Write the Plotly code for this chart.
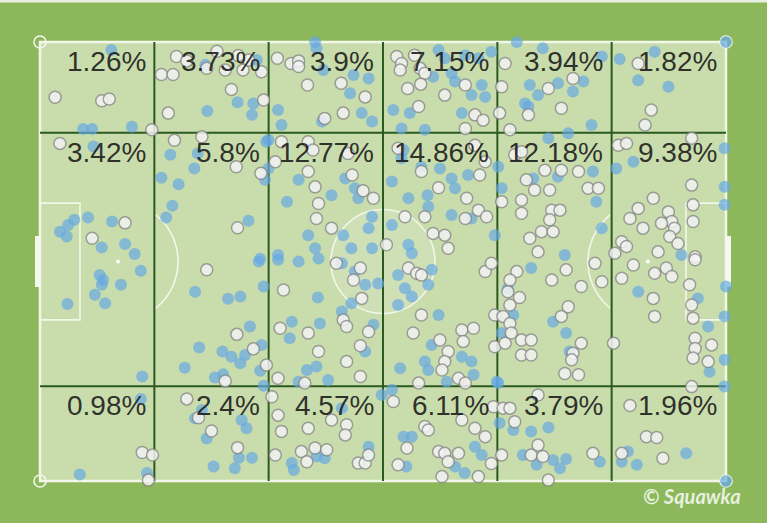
import numpy as np
import plotly.graph_objects as go

# ---------------- data (pitch units: x 0-100 along length, y 0-100 across, 0 = top) ----
zone_x_edges = [0, 16.67, 33.33, 50, 66.67, 83.33, 100]
zone_y_edges = [0, 20.7, 78.4, 100]

pct_top = [1.26, 3.73, 3.9, 7.15, 3.94, 1.82]
pct_mid = [3.42, 5.8, 12.77, 14.86, 12.18, 9.38]
pct_bot = [0.98, 2.4, 4.57, 6.11, 3.79, 1.96]

blue_pts = [
    (10.4,1.8),(6.3,19.8),(7.6,19.8),(13.4,19.3),(28.8,13.7),(24.4,15.7),(31.1,14.0),(30.9,16.6),
    (24.1,5.2),(31.6,4.1),(7.8,23.8),(19.0,25.7),(17.7,30.9),(20.2,32.4),(22.5,28.8),(23.0,25.4),
    (19.3,37.3),(18.4,40.0),(33.0,22.7),(32.8,31.4),(30.4,40.7),(5.0,40.5),(4.1,41.7),(2.9,43.2),
    (3.9,44.3),(7.0,40.0),(10.5,40.9),(9.0,46.8),(12.4,46.0),(13.8,48.3),(32.1,49.4),
    (8.7,53.1),(9.2,54.2),(9.0,55.3),(11.8,55.3),(8.0,57.6),(9.5,59.5),(4.0,59.7),(14.7,52.1),
    (14.9,76.2),(22.6,56.9),(27.4,58.5),(29.2,58.0),(30.6,64.8),(23.2,69.6),(26.6,70.5),(27.9,71.7),
    (29.2,73.2),(29.9,71.3),(32.3,69.0),(32.1,74.9),(32.6,78.3),(21.1,74.2),(25.5,76.4),(26.7,75.7),
    (31.9,50.0),(32.6,55.7),(29.4,86.1),(30.1,88.0),(23.6,83.8),(22.6,85.7),(24.3,90.3),(25.3,96.7),
    (28.4,97.1),(29.0,94.7),(30.9,94.7),(5.8,98.5),(14.7,81.3),(15.6,98.2),
    (40.1,0.0),(40.3,1.4),(41.3,6.4),(45.7,7.5),(47.9,8.3),(45.2,11.7),(34.7,15.5),(35.2,18.9),
    (41.1,18.1),(46.9,16.2),(48.4,18.1),(51.5,15.5),(53.9,16.2),(57.3,7.9),(60.0,7.1),(58.1,1.8),
    (59.0,3.7),(62.0,3.0),(63.9,3.7),(65.8,2.2),(60.5,9.0),(64.4,9.8),(62.9,12.1),(64.9,12.5),
    (61.5,16.2),(52.7,19.7),(56.1,20.0),(33.3,22.3),(33.3,28.8),(37.7,31.4),(36.0,36.4),(42.5,34.9),
    (44.5,31.1),(45.9,33.3),(46.4,35.6),(39.1,44.0),(44.2,44.0),(48.4,39.8),(47.9,42.4),(51.3,41.7),
    (51.3,31.8),(53.7,35.6),(56.5,34.9),(56.6,37.5),(55.6,28.4),(58.3,28.8),(60.0,31.1),(60.5,33.3),
    (62.4,30.3),(60.0,39.4),(62.9,40.2),(66.3,44.0),(53.7,46.2),(54.2,48.1),(45.4,47.0),(48.4,47.0),
    (40.1,47.0),(34.7,48.5),(52.7,26.5),(53.0,24.6),
    (34.7,49.6),(37.7,50.0),(40.6,49.3),(44.0,50.4),(45.9,52.3),(47.4,55.3),(49.3,55.0),(52.2,53.1),
    (53.2,56.1),(54.2,58.0),(52.2,59.9),(56.6,55.3),(57.1,51.9),(40.5,58.2),(44.0,61.4),(45.4,59.5),
    (36.7,63.7),(36.4,67.5),(40.8,64.1),(48.6,64.4),(47.4,70.5),(38.9,74.7),(40.3,73.9),(42.0,77.0),
    (37.7,77.4),(52.5,74.3),(56.1,72.8),(56.6,74.7),(58.1,62.2),(57.1,69.0),(61.5,71.7),(62.9,72.8),
    (63.2,75.8),(59.3,77.4),(51.3,79.2),(49.8,80.4),(66.6,77.4),(53.0,89.9),(54.2,89.9),(40.3,94.4),
    (41.5,94.8),(36.7,95.9),(37.0,97.5),(47.9,92.2),(53.4,96.7),(60.5,96.7),(63.4,92.2),(64.4,94.1),
    (61.9,98.2),(44.0,83.4),
    (69.5,0.0),(73.3,1.4),(71.4,9.8),(72.6,12.1),(70.7,14.0),(71.2,14.7),(75.5,9.4),(77.7,11.3),
    (79.2,9.0),(81.9,3.3),(84.5,3.9),(89.6,2.2),(87.2,8.7),(91.6,10.2),(100.0,0.0),(80.4,18.9),
    (77.0,20.8),(74.1,21.9),(66.8,28.4),(67.3,33.3),(71.9,31.1),(75.5,30.7),(80.6,29.5),(81.1,36.4),
    (76.5,48.5),(84.0,28.8),(86.5,27.3),(99.8,24.2),(99.8,33.0),(99.8,37.1),(81.9,42.4),(93.5,48.5),
    (71.6,51.5),(87.2,56.9),(95.9,58.4),(100.0,55.7),(99.8,62.5),(97.4,64.8),(99.8,72.4),(97.6,75.1),
    (99.8,78.5),(74.8,63.7),(76.7,66.3),(77.2,70.5),(68.2,56.1),(69.0,62.2),(67.3,66.3),(66.8,77.7),
    (67.0,86.8),(69.0,88.4),(71.6,88.7),(74.1,87.8),(70.4,94.1),(72.4,96.3),(74.8,95.2),(76.7,95.0),
    (75.8,97.1),(81.6,95.6),(85.7,93.3),(87.0,96.3),(94.2,93.7),(100.0,100.0),(84.8,95.6),
]

white_pts = [
    (2.2,12.6),(9.0,13.4),(10.1,13.0),(16.3,20.0),(2.9,23.1),(18.7,16.2),(27.9,10.8),(32.6,13.2),
    (23.6,21.6),(19.6,22.4),(28.6,28.4),(32.2,29.9),(28.8,42.3),(12.4,41.2),(7.6,44.7),(17.7,7.4),
    (19.4,7.4),(19.9,3.3),(21.4,4.3),(24.3,6.0),(25.8,2.1),(27.0,6.4),(29.6,6.4),(30.4,4.1),
    (32.3,6.8),(28.9,3.1),
    (24.3,51.9),(28.7,66.6),(31.1,69.9),(33.0,73.6),(27.0,77.2),(21.4,81.3),(23.1,85.6),(25.0,88.6),
    (28.8,92.4),(14.9,93.5),(16.4,94.1),(15.8,99.8),
    (34.6,3.7),(36.6,4.9),(37.7,4.3),(37.7,5.6),(39.0,9.8),(43.9,9.4),(47.4,12.5),(44.2,16.2),
    (41.5,17.4),(52.0,3.3),(52.7,4.9),(52.5,6.4),(54.6,3.0),(55.4,6.0),(56.1,7.1),(53.6,10.6),
    (55.5,9.6),(59.0,12.1),(55.2,14.7),(62.0,9.8),(63.4,16.6),(64.6,17.8),(62.0,19.7),(35.2,22.7),
    (39.1,22.7),(39.8,24.6),(34.3,27.3),(39.1,29.5),(44.9,25.4),(45.5,30.3),(40.1,33.0),(40.6,36.8),
    (47.1,33.9),(48.6,35.6),(40.3,40.2),(42.5,42.4),(55.6,29.5),(58.1,33.2),(62.2,35.6),(63.9,38.3),
    (62.0,40.2),(65.1,39.8),(64.1,30.3),(64.9,27.3),(56.1,39.8),(57.3,43.6),(59.0,44.0),(59.5,47.0),
    (53.2,39.8),(50.5,46.2),(52.2,24.2),(63.4,23.5),
    (35.5,56.5),(35.0,65.2),(39.1,66.3),(40.6,70.5),(44.2,63.3),(44.7,64.8),(45.7,54.2),(46.9,58.4),
    (46.7,51.5),(43.2,50.4),(47.9,66.0),(46.7,69.2),(44.7,72.8),(46.7,76.2),(34.7,76.6),(38.6,77.7),
    (54.4,66.3),(55.6,62.2),(58.3,67.9),(61.5,65.6),(63.2,65.2),(61.7,68.2),(59.5,70.5),(59.0,72.8),
    (58.6,74.7),(61.0,76.6),(62.0,77.7),(55.2,77.7),(53.7,51.5),(54.9,52.7),(55.6,53.1),(64.9,52.3),
    (65.8,50.4),(66.3,62.2),(66.3,69.4),(33.8,80.8),(34.7,85.0),(35.2,88.7),(39.1,88.0),(42.5,86.1),
    (44.7,87.2),(44.5,89.5),(38.1,93.3),(38.9,95.6),(40.1,92.5),(41.8,92.9),(46.4,95.9),(47.4,95.9),
    (47.9,94.1),(34.3,94.1),(51.5,81.9),(53.5,92.5),(52.2,96.3),(56.1,87.6),(56.6,88.4),(58.1,93.3),
    (59.0,93.7),(61.0,93.7),(59.5,95.6),(61.5,86.1),(63.4,88.0),(64.9,89.9),(65.8,96.0),(58.6,99.0),
    (63.9,99.0),(66.1,83.1),
    (67.8,4.9),(67.3,10.2),(67.0,16.2),(71.2,16.6),(74.1,10.6),(77.7,8.3),(76.0,15.1),(68.5,20.0),
    (87.2,4.9),(89.1,15.5),(88.2,18.9),(84.3,23.5),(85.5,23.1),(95.0,21.9),(69.2,25.7),(70.2,25.0),
    (73.6,29.2),(76.0,29.2),(78.5,29.5),(70.9,31.4),(72.1,33.7),(74.3,33.7),(79.9,33.3),(81.4,33.3),
    (67.3,36.4),(70.2,36.0),(70.2,39.0),(74.6,38.3),(75.8,38.3),(74.3,40.5),(73.1,43.2),(74.8,43.2),
    (71.4,44.7),(72.6,47.8),(95.0,32.6),(95.2,37.1),(95.2,40.9),(89.4,35.6),(87.2,37.9),(86.0,40.2),
    (91.6,38.7),(92.1,40.9),(90.6,41.3),(92.5,42.4),(87.9,42.4),(91.8,44.3),(93.0,45.9),(84.8,45.5),
    (85.5,46.6),(90.1,47.8),(95.5,48.9),(83.8,48.1),
    (69.5,52.3),(68.5,54.2),(68.2,56.9),(69.9,58.2),(68.5,59.9),(67.5,62.5),(68.5,64.1),(68.7,66.3),
    (67.8,68.6),(70.2,67.9),(71.6,67.9),(70.2,71.3),(71.6,71.3),(74.6,54.2),(76.7,51.9),(76.0,62.5),
    (77.0,60.3),(78.9,55.7),(81.9,54.6),(80.9,50.4),(78.9,68.6),(77.7,70.9),(77.5,72.4),(76.5,75.5),
    (78.5,75.8),(84.8,53.8),(86.5,50.8),(89.6,52.7),(91.3,51.5),(92.1,53.4),(94.7,55.3),(95.5,49.6),
    (89.4,58.4),(89.6,62.5),(95.0,59.9),(95.2,62.9),(95.5,67.5),(95.5,69.8),(95.2,72.0),(97.9,69.0),
    (97.4,72.8),(83.6,68.6),(95.0,78.5),(67.5,83.4),(68.5,83.4),(72.6,80.4),(69.2,86.5),(72.6,91.8),
    (71.6,94.1),(73.3,94.4),(67.3,94.1),(80.6,93.7),(74.1,99.8),(86.0,82.8),(88.4,89.9),(89.9,90.1),
    (90.8,94.8),(84.8,93.7),
]

blue_x = [p[0] for p in blue_pts]
blue_y = [p[1] for p in blue_pts]
white_x = [p[0] for p in white_pts]
white_y = [p[1] for p in white_pts]

# ---------------- geometry / style ----------------
W, H = 767, 523
PX_X = 6.86   # pixels per x unit
PX_Y = 4.39   # pixels per y unit
X0_PX, Y0_PX = 40, 42
x_range = [-X0_PX / PX_X, (W - X0_PX) / PX_X]
y_range = [(H - Y0_PX) / PX_Y, -Y0_PX / PX_Y]

OUTER = "#8cb85b"
PITCH = "#c9dcac"
LINEW = "#f2f7ea"
GRID = "#2b5a20"

fig = go.Figure()

shapes = []
# pitch
shapes.append(dict(type="rect", x0=0, x1=100, y0=0, y1=100, fillcolor=PITCH,
                   line=dict(color=LINEW, width=2.5), layer="below"))
# centre circle
rx, ry = 52 / PX_X, 52 / PX_Y
shapes.append(dict(type="circle", x0=50 - rx, x1=50 + rx, y0=50 - ry, y1=50 + ry,
                   fillcolor="rgba(255,255,255,0.12)", line=dict(color=LINEW, width=1.6), layer="below"))
# six-yard boxes
box_d = 40 / PX_X
box_y0, box_y1 = 36.7, 63.3
shapes.append(dict(type="rect", x0=0, x1=box_d, y0=box_y0, y1=box_y1,
                   line=dict(color=LINEW, width=1.6), layer="below"))
shapes.append(dict(type="rect", x0=100 - box_d, x1=100, y0=box_y0, y1=box_y1,
                   line=dict(color=LINEW, width=1.6), layer="below"))
# goals
gd = 5 / PX_X
shapes.append(dict(type="rect", x0=-gd, x1=0, y0=44.2, y1=55.8, fillcolor="#f4f8ee",
                   line=dict(width=0), layer="below"))
shapes.append(dict(type="rect", x0=100, x1=100 + gd, y0=44.2, y1=55.8, fillcolor="#f4f8ee",
                   line=dict(width=0), layer="below"))
# penalty spots
spot_l, spot_r = 78 / PX_X, 100 - 78 / PX_X
sx, sy = 2 / PX_X, 2 / PX_Y
for cx in (spot_l, spot_r):
    shapes.append(dict(type="circle", x0=cx - sx, x1=cx + sx, y0=50 - sy, y1=50 + sy,
                       fillcolor="white", line=dict(width=0), layer="below"))
# penalty arcs
arx, ary = 60 / PX_X, 60 / PX_Y
t = np.linspace(-np.pi / 2, np.pi / 2, 80)
for cx, sign, edge in ((spot_l, 1, zone_x_edges[1]), (spot_r, -1, zone_x_edges[5])):
    xs = cx + sign * arx * np.cos(t)
    ys = 50 + ary * np.sin(t)
    keep = (xs > edge) if sign == 1 else (xs < edge)
    xs, ys = xs[keep], ys[keep]
    path = "M " + " L ".join(f"{a:.3f},{b:.3f}" for a, b in zip(xs, ys))
    shapes.append(dict(type="path", path=path, line=dict(color=LINEW, width=1.6), layer="below"))
# corner circles
crx, cry = 6 / PX_X, 6 / PX_Y
for cx in (0, 100):
    for cy in (0, 100):
        shapes.append(dict(type="circle", x0=cx - crx, x1=cx + crx, y0=cy - cry, y1=cy + cry,
                           line=dict(color=LINEW, width=1.6), layer="below"))
# zone grid
for xe in zone_x_edges[1:-1]:
    shapes.append(dict(type="line", x0=xe, x1=xe, y0=0, y1=100,
                       line=dict(color=GRID, width=2), layer="below"))
for ye in zone_y_edges[1:-1]:
    shapes.append(dict(type="line", x0=0, x1=100, y0=ye, y1=ye,
                       line=dict(color=GRID, width=2), layer="below"))
# thin light strip on top edge
shapes.append(dict(type="rect", xref="paper", yref="paper", x0=0, x1=1, y0=0.995, y1=1,
                   fillcolor="#e9efe1", line=dict(width=0), layer="below"))

fig.add_trace(go.Scatter(
    x=blue_x, y=blue_y, mode="markers", hoverinfo="skip", showlegend=False,
    marker=dict(size=12, color="rgba(100,168,228,0.68)", line=dict(width=0)),
))
fig.add_trace(go.Scatter(
    x=white_x, y=white_y, mode="markers", hoverinfo="skip", showlegend=False,
    marker=dict(size=12, color="rgba(242,242,242,0.85)",
                line=dict(color="rgba(125,125,125,0.7)", width=1.5)),
))

annotations = []
for row, vals in enumerate((pct_top, pct_mid, pct_bot)):
    for col, v in enumerate(vals):
        annotations.append(dict(
            x=zone_x_edges[col + 1] - 1.0, y=zone_y_edges[row] + 4.4,
            xref="x", yref="y", xanchor="right", yanchor="middle",
            text=f"{v:g}%", showarrow=False,
            font=dict(family="Liberation Sans, Arial, sans-serif", size=28, color="rgba(25,25,25,0.9)"),
        ))
annotations.append(dict(
    x=743 / W, y=1 - 496 / H, xref="paper", yref="paper", xanchor="right", yanchor="middle",
    text="<b><i>© Squawka</i></b>", showarrow=False,
    font=dict(family="Lato, DejaVu Sans, sans-serif", size=20, color="rgba(238,245,230,0.95)"),
))

fig.update_layout(
    width=W, height=H, margin=dict(l=0, r=0, t=0, b=0),
    paper_bgcolor=OUTER, plot_bgcolor=OUTER,
    shapes=shapes, annotations=annotations, showlegend=False,
    xaxis=dict(range=x_range, visible=False, showgrid=False, zeroline=False, fixedrange=True),
    yaxis=dict(range=y_range, visible=False, showgrid=False, zeroline=False, fixedrange=True),
)

fig.write_html("out.html")
